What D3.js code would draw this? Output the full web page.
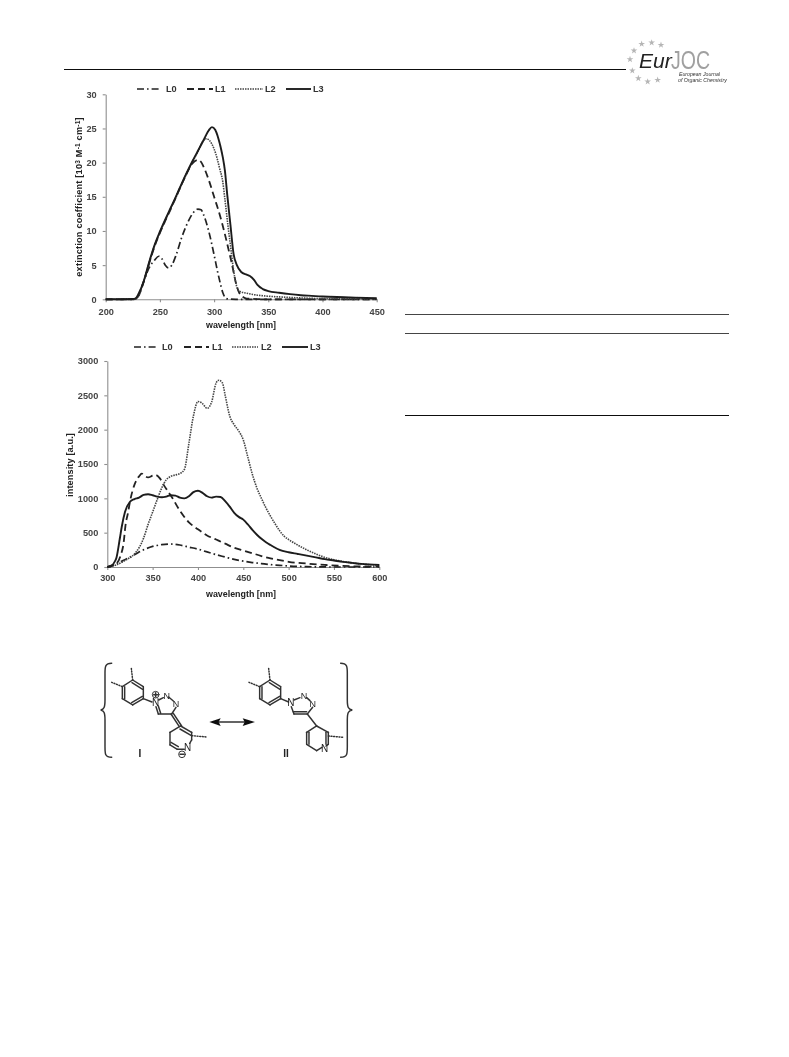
<!DOCTYPE html>
<html><head><meta charset="utf-8">
<script src="https://cdn.jsdelivr.net/npm/d3@7"></script>
<style>
html,body{margin:0;padding:0;background:#fff}
text{font-family:"Liberation Sans",Arial,sans-serif}
</style></head><body>
<svg id="page" width="789" height="1057" viewBox="0 0 789 1057"></svg>
<script>
// ---------- Extinction chart data ----------
const absTicksX=[200,250,300,350,400,450];
const absTicksY=[0,5,10,15,20,25,30];
const absL0X=[200,225,228,230,235,240,245,249,252,255,258,261,265,270,275,280,285,288,290,295,300,303,305,308,310,313,320,450];
const absL0Y=[0,0,0.1,0.5,2.6,4.6,5.7,6.3,5.9,5,4.6,5,6.5,9,11,12.5,13.2,13.1,12.5,10,6.5,4.2,2.8,1,0.3,0.05,0,0];
const absL1X=[200,225,228,230,235,240,245,250,255,260,265,270,275,280,285,288,290,295,300,305,310,313,316,320,323,327,330,350,450];
const absL1Y=[0,0,0.1,0.4,2.5,5.2,7.7,9.7,11.5,13.2,15,16.8,18.5,19.9,20.4,20.1,19.5,17.5,15,12.5,9.5,7.5,5.5,2.5,1,0.3,0.1,0,0];
const absL2X=[200,225,228,230,235,240,245,250,255,260,265,270,275,280,285,290,293,296,300,303,305,308,310,313,315,318,320,323,330,340,350,360,380,400,450];
const absL2Y=[0,0,0.1,0.5,2.6,5.3,7.8,9.8,11.6,13.3,15,16.8,18.5,20.1,21.6,23.2,23.5,23.2,22,20.5,19.2,17.2,14.6,10.5,8,4.2,2.4,1.2,0.9,0.6,0.45,0.35,0.2,0.1,0.05];
const absL3X=[200,225,228,230,235,240,245,250,255,260,265,270,275,280,285,290,295,298,301,304,306,308,310,312,315,318,321,325,330,333,337,340,345,350,360,370,380,390,400,420,450];
const absL3Y=[0,0.05,0.2,0.7,2.6,5.4,7.9,9.9,11.7,13.4,15.1,16.9,18.6,20.2,21.7,23.2,24.7,25.2,24.8,23.5,22.3,20.8,18.8,15.5,11,6.6,5,4,3.6,3.4,2.8,2.1,1.5,1.2,0.95,0.75,0.6,0.5,0.4,0.3,0.15];
// ---------- Emission chart data ----------
const emTicksX=[300,350,400,450,500,550,600];
const emTicksY=[0,500,1000,1500,2000,2500,3000];
const emL0X=[300,310,320,330,340,350,360,370,380,390,400,410,420,430,440,450,460,470,480,490,500,520,550,600];
const emL0Y=[0,50,110,180,250,300,325,335,320,290,260,220,180,145,110,85,65,50,35,25,15,5,0,0];
const emL1X=[300,310,315,318,320,323,325,330,335,338,342,345,350,353,358,362,367,372,380,390,400,410,420,430,440,450,460,470,480,490,500,520,540,560,600];
const emL1Y=[0,50,180,350,600,800,950,1200,1320,1360,1320,1305,1330,1340,1290,1200,1100,1000,820,650,550,460,400,340,280,240,200,160,125,100,75,50,30,15,5];
const emL2X=[300,310,320,330,335,340,345,350,355,360,365,370,375,380,385,390,395,400,405,410,415,420,423,427,430,435,440,445,450,455,460,465,470,475,480,485,490,495,500,510,520,530,540,550,560,570,580,600];
const emL2Y=[0,30,100,190,280,420,620,800,980,1150,1270,1320,1340,1360,1420,1800,2200,2410,2380,2310,2400,2680,2720,2680,2500,2200,2070,1980,1850,1600,1350,1150,1000,860,740,630,530,450,400,320,250,190,140,105,80,60,45,25];
const emL3X=[300,305,308,310,314,316,319.5,325,330,335,340,345,350,355,360,365,370,375,380,385,390,395,400,405,410,415,420,425,430,435,440,445,450,455,460,465,470,475,480,490,500,510,520,530,540,550,560,570,580,600];
const emL3Y=[0,20,75,130,430,590,800,950,990,1010,1050,1060,1045,1025,1015,1025,1045,1040,1010,1000,1030,1090,1110,1080,1030,1010,1025,1020,960,880,790,730,690,620,540,470,410,360,320,250,215,190,165,140,115,95,75,60,45,30];
const seriesNames=["L0","L1","L2","L3"];
const absLabelX="wavelength [nm]";
const emLabelX="wavelength [nm]";
const emLabelY="intensity  [a.u.]";

const svg=d3.select("#page");
const defs=svg.append("defs");
defs.append("filter").attr("id","soft").attr("x","-5%").attr("y","-5%").attr("width","110%").attr("height","110%")
  .append("feGaussianBlur").attr("stdDeviation",0.55);
const root=svg.append("g").attr("filter","url(#soft)");

const styles={
  L0:{dash:"7 3 1.6 3",w:1.7,c:"#222"},
  L1:{dash:"7 4",w:1.8,c:"#222"},
  L2:{dash:"1.5 1",w:1.6,c:"#444"},
  L3:{dash:null,w:1.9,c:"#1c1c1c"}
};

function chart(o){
  const x=d3.scaleLinear().domain(o.xd).range(o.xr);
  const y=d3.scaleLinear().domain(o.yd).range(o.yr);
  const g=root.append("g");
  const ax=g.append("g").attr("transform",`translate(0,${o.yr[0]})`)
    .call(d3.axisBottom(x).tickValues(o.tx).tickFormat(d3.format("d")).tickSize(3).tickSizeOuter(0).tickPadding(o.xpad));
  const ay=g.append("g").attr("transform",`translate(${o.xr[0]},0)`)
    .call(d3.axisLeft(y).tickValues(o.ty).tickFormat(d3.format("d")).tickSize(3).tickSizeOuter(0).tickPadding(o.ypad));
  for(const a of [ax,ay]){
    a.selectAll("path,line").attr("stroke","#8f8f8f").attr("stroke-width",1.1);
    a.selectAll("text").attr("font-size",9.2).attr("font-weight",700).attr("fill","#444").style("font-family",'"Liberation Sans"');
  }
  const line=d3.line().x(d=>x(d[0])).y(d=>y(d[1])).curve(d3.curveMonotoneX);
  o.series.forEach((s,i)=>{
    const st=styles[seriesNames[i]];
    g.append("path").attr("d",line(d3.zip(s[0],s[1]))).attr("fill","none")
     .attr("stroke",st.c).attr("stroke-width",st.w).attr("stroke-dasharray",st.dash);
  });
  g.append("text").attr("x",o.xl[0]).attr("y",o.xl[1]).attr("text-anchor","middle")
    .attr("font-size",8.9).attr("font-weight",700).attr("fill","#222").text(o.xlabel);
  const yl=g.append("text").attr("transform",`translate(${o.yl[0]},${o.yl[1]}) rotate(-90)`).attr("text-anchor","middle")
    .attr("font-size",9.2).attr("font-weight",700).attr("fill","#222").attr("letter-spacing",o.yls);
  o.ylabel(yl);
  o.legend.forEach((l,i)=>{
    const st=styles[seriesNames[i]];
    g.append("line").attr("x1",l[0]).attr("x2",l[1]).attr("y1",o.ly).attr("y2",o.ly)
      .attr("stroke",st.c).attr("stroke-width",st.w).attr("stroke-dasharray",st.dash);
    g.append("text").attr("x",l[2]).attr("y",o.ly+3.3).attr("font-size",9.2).attr("font-weight",700).attr("fill","#333").text(seriesNames[i]);
  });
}

chart({xd:[200,450],xr:[105.7,376.7],yd:[0,30],yr:[299.3,94.3],tx:absTicksX,ty:absTicksY,xpad:6,ypad:6,yls:0.2,
  series:[[absL0X,absL0Y],[absL1X,absL1Y],[absL2X,absL2Y],[absL3X,absL3Y]],
  xlabel:absLabelX,xl:[241,328],yl:[82,197],
  ylabel:t=>{t.append("tspan").text("extinction coefficient [10");t.append("tspan").attr("dy",-2.5).attr("font-size",6.5).text("3");
    t.append("tspan").attr("dy",2.5).text(" M");t.append("tspan").attr("dy",-2.5).attr("font-size",6.5).text("-1");
    t.append("tspan").attr("dy",2.5).text(" cm");t.append("tspan").attr("dy",-2.5).attr("font-size",6.5).text("-1");
    t.append("tspan").attr("dy",2.5).text("]");},
  ly:89,legend:[[137,160,166],[187,213,215],[235,263,265],[286,311,313]]});

chart({xd:[300,600],xr:[107.3,379.3],yd:[0,3000],yr:[567,361],tx:emTicksX,ty:emTicksY,xpad:4,ypad:6,yls:0.1,
  series:[[emL0X,emL0Y],[emL1X,emL1Y],[emL2X,emL2Y],[emL3X,emL3Y]],
  xlabel:emLabelX,xl:[241,597],yl:[73,465],
  ylabel:t=>t.text(emLabelY),
  ly:347,legend:[[134,157,162],[184,209,212],[232,258,261],[282,308,310]]});

// ---------- Page furniture ----------
root.append("line").attr("x1",64).attr("x2",626).attr("y1",69.5).attr("y2",69.5).attr("stroke","#111").attr("stroke-width",1.2);
[[314.5,"#444"],[333.5,"#444"],[415.5,"#111"]].forEach(r=>root.append("line").attr("x1",405).attr("x2",729).attr("y1",r[0]).attr("y2",r[0]).attr("stroke",r[1]).attr("stroke-width",1.2));

// Logo
const logo=root.append("g");
[[125,42],[155,38],[183,45],[102,62],[90,88],[97,122],[115,145],[143,155],[173,150]].forEach(p=>{
  logo.append("path").attr("d",d3.symbol(d3.symbolStar,14)()).attr("transform",`translate(${600+p[0]/3},${30+p[1]/3})`).attr("fill","#b5b5b5");
});
logo.append("text").attr("x",639).attr("y",68).attr("font-size",21).attr("font-style","italic").attr("fill","#222").text("Eur");
logo.append("text").attr("x",671).attr("y",69).attr("font-size",25).attr("fill","#a0a0a0").attr("textLength",39).attr("lengthAdjust","spacingAndGlyphs").text("JOC");
logo.append("text").attr("x",679).attr("y",75.5).attr("font-size",5.2).attr("font-style","italic").attr("fill","#333").text("European Journal");
logo.append("text").attr("x",678).attr("y",81.5).attr("font-size",5.2).attr("font-style","italic").attr("fill","#333").text("of Organic Chemistry");

// ---------- Resonance scheme ----------
const sch=root.append("g").attr("transform","translate(90,650) scale(0.3333)")
  .attr("fill","none").attr("stroke","#333").attr("stroke-width",4.4).attr("stroke-linecap","round");
const bond=(a,b,dash)=>sch.append("line").attr("x1",a[0]).attr("y1",a[1]).attr("x2",b[0]).attr("y2",b[1]).attr("stroke-dasharray",dash?"3 5":null);
const dbl=(a,b,dx,dy)=>bond([a[0]+dx,a[1]+dy],[b[0]+dx,b[1]+dy]);
function label(t,x,y,fs,w){sch.append("text").attr("x",x).attr("y",y).attr("text-anchor","middle").attr("font-size",fs||30).attr("font-weight",w||400).attr("fill","#222").attr("stroke","none").text(t);}
function aryl(ox){
  const v=[[128,90],[160,110],[160,146],[128,165],[97,146],[97,110]].map(p=>[p[0]+ox,p[1]]);
  v.forEach((p,i)=>bond(p,v[(i+1)%6]));
  dbl(v[0],v[1],-2,8); dbl(v[2],v[3],-3,-7); dbl(v[4],v[5],7,0);
  bond(v[0],[124+ox,55],true); bond(v[5],[65+ox,97],true);
  return v;
}
aryl(0); aryl(412);
// structure I
bond([160,146],[186,156]);
bond([206,150],[220,143]);bond([236,141],[250,153]);bond([258,172],[245,192]);bond([245,192],[205,192]);bond([205,192],[198,170]);dbl([205,192],[198,170],7,-2);
bond([243,192],[268,230]);bond([250,190],[275,228]);
const p1=[[272,228],[305,247],[305,270],[285,296],[262,298],[240,285],[240,247]];
bond(p1[0],p1[1]);bond(p1[1],p1[2]);bond([305,270],[299,280]);bond([283,298],[262,298]);bond(p1[4],p1[5]);bond(p1[5],p1[6]);bond(p1[6],p1[0]);dbl(p1[4],p1[5],3,-8);dbl(p1[0],p1[1],-2,9);
bond([305,257],[350,261],true);
label("N",197,167);label("N",230,148,27);label("N",258,172,27);label("N",293,303);
sch.append("circle").attr("cx",197).attr("cy",134).attr("r",10).attr("stroke-width",3);
bond([191,134],[203,134]);bond([197,128],[197,140]);
sch.append("circle").attr("cx",276).attr("cy",313).attr("r",10).attr("stroke-width",3);
bond([270,313],[282,313]);
label("I",150,322,30,700);
// structure II
bond([572,146],[596,156]);
bond([612,150],[630,143]);bond([650,143],[660,152]);bond([668,172],[652,192]);bond([652,192],[612,192]);bond([612,192],[604,170]);dbl([652,192],[612,192],-2,-7);
bond([652,192],[680,228]);
const p2=[[680,228],[715,247],[715,283],[708,288],[680,302],[650,283],[650,247]];
bond(p2[0],p2[1]);bond(p2[1],p2[2]);bond(p2[2],p2[3]);bond([696,292],[680,302]);bond(p2[4],p2[5]);bond(p2[5],p2[6]);bond(p2[6],p2[0]);dbl(p2[1],p2[2],-7,0);dbl(p2[5],p2[6],7,0);
bond([715,258],[760,262],true);
label("N",603,167);label("N",642,148,27);label("N",668,172,27);label("N",704,305);
label("II",588,322,30,700);
// arrow
bond([385,216],[465,216]);
sch.append("path").attr("d","M358,216 L392,205 L386,216 L392,228 Z").attr("fill","#111").attr("stroke","none");
sch.append("path").attr("d","M495,216 L458,205 L464,216 L458,228 Z").attr("fill","#111").attr("stroke","none");
// braces
sch.append("path").attr("d","M65,40 C45,40 45,50 45,70 L45,150 C45,172 42,178 32,180 C42,182 45,188 45,210 L45,290 C45,312 45,322 65,322");
sch.append("path").attr("d","M752,40 C772,40 772,50 772,70 L772,150 C772,172 775,178 787,180 C775,182 772,188 772,210 L772,290 C772,312 772,322 752,322");
</script>
</body></html>
